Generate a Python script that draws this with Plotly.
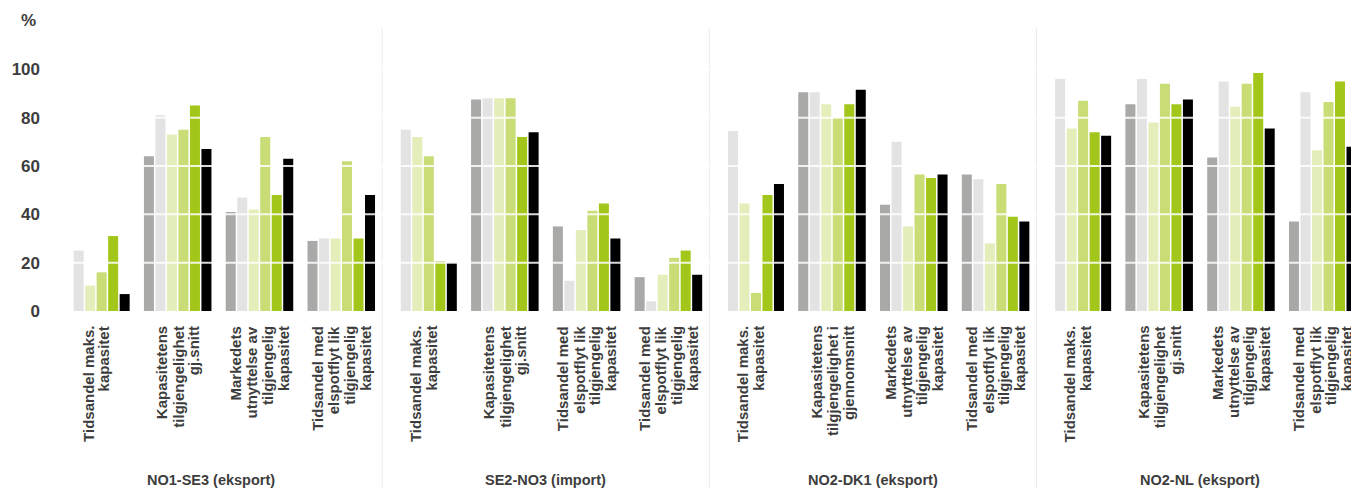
import plotly.graph_objects as go

# Category labels along the x axis (line breaks as in the printed labels)
categories = [
    "Tidsandel maks.<br>kapasitet",
    "Kapasitetens<br>tilgjengelighet<br>gj.snitt",
    "Markedets<br>utnyttelse av<br>tilgjengelig<br>kapasitet",
    "Tidsandel med<br>elspotflyt lik<br>tilgjengelig<br>kapasitet",
    "Tidsandel maks.<br>kapasitet",
    "Kapasitetens<br>tilgjengelighet<br>gj.snitt",
    "Tidsandel med<br>elspotflyt lik<br>tilgjengelig<br>kapasitet",
    "Tidsandel med<br>elspotflyt lik<br>tilgjengelig<br>kapasitet",
    "Tidsandel maks.<br>kapasitet",
    "Kapasitetens<br>tilgjengelighet i<br>gjennomsnitt",
    "Markedets<br>utnyttelse av<br>tilgjengelig<br>kapasitet",
    "Tidsandel med<br>elspotflyt lik<br>tilgjengelig<br>kapasitet",
    "Tidsandel maks.<br>kapasitet",
    "Kapasitetens<br>tilgjengelighet<br>gj.snitt",
    "Markedets<br>utnyttelse av<br>tilgjengelig<br>kapasitet",
    "Tidsandel med<br>elspotflyt lik<br>tilgjengelig<br>kapasitet",
]

# Connection groups (each covers four categories)
panels = ["NO1-SE3 (eksport)", "SE2-NO3 (import)", "NO2-DK1 (eksport)", "NO2-NL (eksport)"]
panel_sizes = [4, 4, 4, 4]

# Series values in percent (None = no bar)
serie_1 = [None, 64, 41, 29, None, 87.5, 35, 14, None, 90.5, 44, 56.5, None, 85.5, 63.5, 37]
serie_2 = [25, 81, 47, 30, 75, 88, 12.5, 4, 74.5, 90.5, 70, 54.5, 96, 96, 95, 90.5]
serie_3 = [10.5, 73, 42, 30, 72, 88, 33.5, 15, 44.5, 85.5, 35, 28, 75.5, 78, 84.5, 66.5]
serie_4 = [16, 75, 72, 62, 64, 88, 41.5, 22, 7.5, 80, 56.5, 52.5, 87, 94, 94, 86.5]
serie_5 = [31, 85, 48, 30, 20.5, 72, 44.5, 25, 48, 85.5, 55, 39, 74, 85.5, 98.5, 95]
serie_6 = [7, 67, 63, 48, 20, 74, 30, 15, 52.5, 91.5, 56.5, 37, 72.5, 87.5, 75.5, 68]

y_ticks = [0, 20, 40, 60, 80, 100]

series = [serie_1, serie_2, serie_3, serie_4, serie_5, serie_6]
colors = ["#a9a9a8", "#e3e3e3", "#e4eebb", "#c8dd75", "#a3c61a", "#000000"]

FONT = "Liberation Sans"
TEXT = "#3d3d3d"

W, H = 1351, 488
ML, MT, MB = 55, 28, 177
plot_h = H - MT - MB
ymax = 117.1
xpos = list(range(len(categories)))
unit = 81.79
xmax = -0.5 + (W - ML) / unit

fig = go.Figure()
for i, (vals, col) in enumerate(zip(series, colors)):
    fig.add_trace(go.Bar(
        x=xpos, y=vals, name=f"Serie {i + 1}",
        marker=dict(color=col, line=dict(width=0)),
        showlegend=False,
    ))

shapes = []
# light grid lines drawn over the bars
for v in y_ticks[1:]:
    shapes.append(dict(type="line", xref="paper", x0=0, x1=1, yref="y", y0=v, y1=v,
                       line=dict(color="rgba(255,255,255,0.85)", width=2), layer="above"))

# vertical separators between connection groups
paper_per_px = 1.0 / plot_h
bottom_paper = -(MB) * paper_per_px
edge = 0
annotations = []
for p, (name, n) in enumerate(zip(panels, panel_sizes)):
    start = edge
    edge += n
    if p < len(panels) - 1:
        shapes.append(dict(type="line", xref="x", x0=edge - 0.5, x1=edge - 0.5,
                           yref="paper", y0=bottom_paper, y1=1,
                           line=dict(color="#ebebeb", width=1), layer="below"))
    center = (start + edge - 1) / 2
    annotations.append(dict(
        x=center, xref="x", y=-(480 - (H - MB)) * paper_per_px, yref="paper",
        text=name, showarrow=False, xanchor="center", yanchor="middle",
        xshift=-8 if p == 0 else 0,
        font=dict(family=FONT, size=14.5, color=TEXT, weight="bold"),
    ))

# rotated category labels, one annotation per line, right-aligned at the top
pitch = 16
for i, lab in enumerate(categories):
    lines = lab.split("<br>")
    n = len(lines)
    for k, line in enumerate(lines):
        annotations.append(dict(
            x=i, xref="x", y=-13 * paper_per_px, yref="paper",
            text=line, showarrow=False, textangle=-90,
            xanchor="center", yanchor="top",
            xshift=(k - (n - 1) / 2) * pitch,
            font=dict(family=FONT, size=15, color=TEXT, weight="bold"),
        ))

# unit label above the y axis
annotations.append(dict(
    x=-(ML - 38) / (W - ML), xref="paper", y=1 + 8 * paper_per_px, yref="paper",
    text="%", showarrow=False, xanchor="right", yanchor="middle",
    font=dict(family=FONT, size=17, color=TEXT, weight="bold"),
))

fig.update_layout(
    width=W, height=H, autosize=False,
    margin=dict(l=ML, r=0, t=MT, b=MB, pad=0),
    paper_bgcolor="white", plot_bgcolor="white",
    barmode="group", bargap=0.156, bargroupgap=0.13,
    shapes=shapes, annotations=annotations,
    xaxis=dict(range=[-0.5, xmax], showticklabels=False, showgrid=False,
               zeroline=False, showline=False, ticks=""),
    yaxis=dict(range=[0, ymax], tickvals=y_ticks, ticktext=[str(v) for v in y_ticks],
               showgrid=False, zeroline=False, showline=False, ticks="",
               ticklabelstandoff=14,
               tickfont=dict(family=FONT, size=17, color=TEXT, weight="bold")),
)

fig.write_html("out.html")
